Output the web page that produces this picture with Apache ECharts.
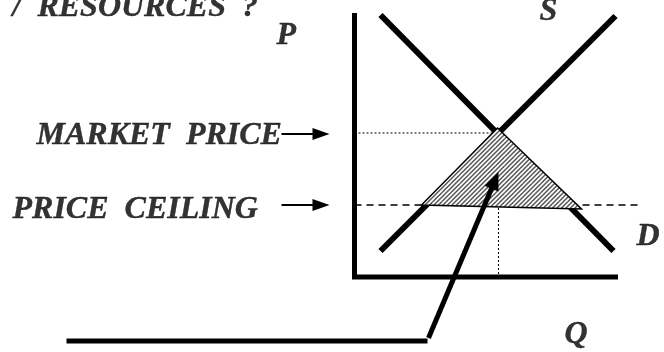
<!DOCTYPE html>
<html>
<head>
<meta charset="utf-8">
<script src="https://cdn.jsdelivr.net/npm/echarts@6.0.0/dist/echarts.min.js"></script>
<style>
  html, body { margin: 0; padding: 0; background: #fff; }
  #chart { width: 664px; height: 352px; }
</style>
</head>
<body>
<div id="chart"></div>
<script>
// quantity (Q) / price (P) values, origin at the axis corner
const axisPath = [[0, 264], [0, 0], [263.5, 0]]
const demand = [[26, 262], [259, 26]]
const supply = [[26, 26], [261, 261]]
const marketLine = [[0, 144], [144, 144]]
const ceilingLine = [[0, 72], [287, 72]]
const qtyLine = [[144, 69], [144, 0]]
const shortageArea = [[143, 149], [67, 72], [227, 68]]
const pointerBase = [[-288, -64], [73, -64]]
const pointerArrow = [[74, -61], [144, 105]]
const marketArrow = [[-73, 143], [-25, 143]]
const ceilingArrow = [[-73, 72], [-25, 72]]

const labelText = ['/  RESOURCES  ?', 'P', 'S', 'MARKET  PRICE', 'PRICE  CEILING', 'D', 'Q']
const labelPos = [[-342, 269], [-78, 241], [185, 265.5], [-318, 141], [-342, 67], [282, 40], [210, -57.5]]

function makeHatch() {
  const t = 9
  const c = document.createElement('canvas')
  c.width = t; c.height = t
  const g = c.getContext('2d')
  g.fillStyle = '#fff'
  g.fillRect(0, 0, t, t)
  g.strokeStyle = '#555'
  g.lineWidth = 1.5
  for (let k = -2; k <= 2; k++) {
    const o = k * t / 2
    g.beginPath()
    g.moveTo(o - 1, t + 1)
    g.lineTo(o + t + 1, -1)
    g.stroke()
  }
  return c
}

function lineSeries(data, width, type, z) {
  return {
    type: 'line', data, symbol: 'none', silent: true, z,
    lineStyle: { color: '#000', width, type, cap: 'butt', join: 'miter' }
  }
}

function arrowSeries(pts, shaftWidth, headLen, headWidth) {
  return {
    type: 'custom', silent: true, z: 6,
    data: [pts.flat()],
    renderItem(params, api) {
      const a = api.coord([api.value(0), api.value(1)])
      const b = api.coord([api.value(2), api.value(3)])
      const dx = b[0] - a[0], dy = b[1] - a[1]
      const len = Math.hypot(dx, dy)
      const ux = dx / len, uy = dy / len
      const bx = b[0] - ux * headLen, by = b[1] - uy * headLen
      const nx = -uy * headWidth / 2, ny = ux * headWidth / 2
      return {
        type: 'group',
        children: [
          { type: 'line', shape: { x1: a[0], y1: a[1], x2: bx + ux * 2, y2: by + uy * 2 },
            style: { stroke: '#000', lineWidth: shaftWidth } },
          { type: 'polygon', shape: { points: [b, [bx + nx, by + ny], [bx - nx, by - ny]] },
            style: { fill: '#000' } }
        ]
      }
    }
  }
}

const chart = echarts.init(document.getElementById('chart'))
chart.setOption({
  animation: false,
  backgroundColor: '#fff',
  grid: { left: 0, right: 0, top: 0, bottom: 0 },
  xAxis: { type: 'value', min: -354.5, max: 309.5, show: false },
  yAxis: { type: 'value', min: -75, max: 277, show: false },
  series: [
    lineSeries(marketLine, 1, [2, 2], 1),
    lineSeries(ceilingLine, 1.6, [7, 5], 1),
    lineSeries(qtyLine, 1, [2, 2], 1),
    lineSeries(axisPath, 5, 'solid', 2),
    lineSeries(demand, 6, 'solid', 2),
    lineSeries(supply, 6, 'solid', 2),
    {
      type: 'custom', silent: true, z: 4,
      data: [shortageArea.flat()],
      renderItem(params, api) {
        const points = []
        for (let i = 0; i < 3; i++) points.push(api.coord([api.value(i * 2), api.value(i * 2 + 1)]))
        return {
          type: 'polygon',
          shape: { points },
          style: { fill: { image: makeHatch(), repeat: 'repeat' }, stroke: '#000', lineWidth: 1.5 }
        }
      }
    },
    lineSeries(pointerBase, 5, 'solid', 5),
    arrowSeries(pointerArrow, 5, 18, 15),
    arrowSeries(marketArrow, 2, 17, 12),
    arrowSeries(ceilingArrow, 2, 17, 12),
    {
      type: 'scatter', symbolSize: 0, silent: true, z: 7,
      itemStyle: { color: '#000' },
      data: labelText.map((t, i) => ({ name: t, value: labelPos[i] })),
      label: {
        show: true, position: [0, 0], align: 'left', verticalAlign: 'middle',
        formatter: '{b}', color: '#000', textBorderColor: '#000', textBorderWidth: 0.4,
        fontFamily: 'Liberation Serif', fontStyle: 'italic', fontWeight: 'bold', fontSize: 32
      }
    }
  ]
})
</script>
</body>
</html>
